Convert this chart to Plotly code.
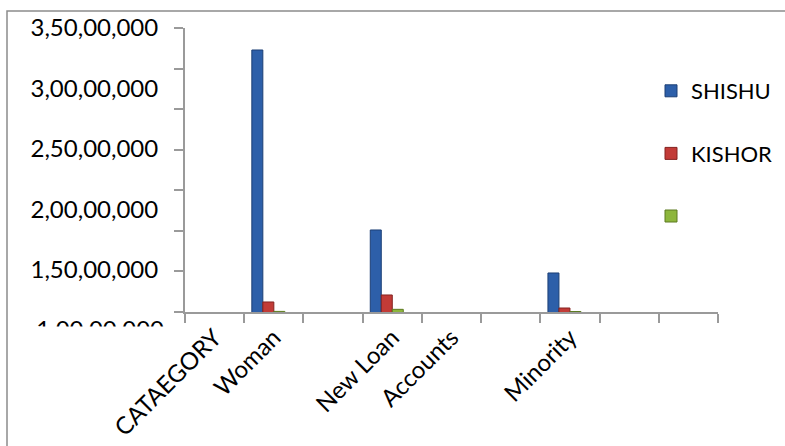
import numpy as np
import plotly.graph_objects as go

# Category slots along the x axis (blank slots keep their place in the layout)
CATEGORIES = ["CATAEGORY", "Woman", " ", "New Loan", "Accounts", "  ", "Minority", "   ", "    "]

# Series values (rupees)
SHISHU = [None, 33180000, None, 18280000, None, None, 14720000, None, None]
KISHOR = [None, 12320000, None, 12900000, None, None, 11820000, None, None]
UNNAMED = [None, 11540000, None, 11710000, None, None, 11530000, None, None]
BLANK = [None] * len(CATEGORIES)

# Value-axis labels (Indian digit grouping)
Y_TICK_VALUES = [35000000, 30000000, 25000000, 20000000, 15000000]
Y_TICK_LABELS = ["3,50,00,000", "3,00,00,000", "2,50,00,000", "2,00,00,000", "1,50,00,000"]
LOW_TICK_VALUE = [10000000]
LOW_TICK_LABEL = ["1,00,00,000"]

FONT = "Lato"
W, H = 785, 446
ML, MR, MT, MB = 185, 67, 28, 112
PLOT_W = W - ML - MR
PLOT_H = H - MT - MB

Y_TOP = 35000000
AXIS_FLOOR = 11490000          # value sitting on the category axis line
PX_PER_UNIT = 284 / (Y_TOP - AXIS_FLOOR)
LOWER_PX = 22                  # strip below the category axis line
Y_LOW = AXIS_FLOOR - LOWER_PX / PX_PER_UNIT
D0 = LOWER_PX / PLOT_H

fig = go.Figure()
series = [
    ("SHISHU", SHISHU, "#2d5fa9", "#1c3f75", True),
    ("KISHOR", KISHOR, "#c23b37", "#842320", True),
    ("", UNNAMED, "#8db63c", "#5c7a20", True),
    ("", BLANK, "#ffffff", "#ffffff", False),
]
for i, (name, vals, fill, edge, show) in enumerate(series):
    fig.add_trace(go.Bar(
        x=CATEGORIES, y=vals, name=name, showlegend=show,
        legendgroup=f"g{i}",
        marker=dict(color=fill, line=dict(color=edge, width=1)),
    ))

# empty trace so the lower value strip gets its own axis drawn
fig.add_trace(go.Scatter(x=[], y=[], xaxis="x", yaxis="y2", showlegend=False,
                         hoverinfo="skip"))

fig.update_layout(
    template="none",
    width=W, height=H,
    margin=dict(l=ML, r=MR, t=MT, b=MB, autoexpand=False),
    paper_bgcolor="white", plot_bgcolor="white",
    barmode="group", bargap=0.257, bargroupgap=0,
    font=dict(family=FONT, color="black"),
    xaxis=dict(
        type="category", categoryorder="array", categoryarray=CATEGORIES,
        anchor="y", automargin=False, showgrid=False, showline=True, linecolor="#9a9a9a", linewidth=2,
        ticks="outside", tickson="boundaries", ticklen=9, tickcolor="#9a9a9a", tickwidth=2,
        tickangle=-45, tickfont=dict(size=24, family=FONT),
    ),
    yaxis=dict(
        domain=[D0, 1], range=[AXIS_FLOOR, Y_TOP], anchor="x", automargin=False,
        showgrid=False, zeroline=False, showline=True, linecolor="#9a9a9a", linewidth=2,
        tickmode="array", tickvals=Y_TICK_VALUES, ticktext=Y_TICK_LABELS,
        ticks="", ticklabelstandoff=20, tickfont=dict(size=24, family=FONT),
        minor=dict(tickmode="array", tickvals=list(np.linspace(AXIS_FLOOR, Y_TOP, 8)),
                   ticks="outside", ticklen=9, tickcolor="#9a9a9a", tickwidth=2, showgrid=False),
    ),
    yaxis2=dict(
        domain=[0, D0], range=[Y_LOW, AXIS_FLOOR], anchor="x", automargin=False,
        showgrid=False, zeroline=False, showline=False,
        tickmode="array", tickvals=LOW_TICK_VALUE, ticktext=LOW_TICK_LABEL,
        ticks="", ticklabelstandoff=20, tickfont=dict(size=24, family=FONT),
    ),
    legend=dict(
        x=(651 - ML) / PLOT_W, y=(MT + PLOT_H - 70) / PLOT_H, xanchor="left", yanchor="top",
        font=dict(size=22, family=FONT), tracegroupgap=31, bgcolor="rgba(0,0,0,0)",
    ),
)

def px_x(p):
    return (p - ML) / PLOT_W

def px_y(p):
    return (MT + PLOT_H - p) / PLOT_H

# outer chart frame, running off the right and bottom edges
fig.add_shape(type="rect", xref="paper", yref="paper",
              x0=px_x(7), x1=px_x(795), y0=px_y(470), y1=px_y(11),
              line=dict(color="#8c8c8c", width=1.5), fillcolor="rgba(0,0,0,0)", layer="above")
# chart area clips the lowest value label
fig.add_shape(type="rect", xref="paper", yref="paper",
              x0=px_x(9), x1=px_x(180), y0=px_y(348), y1=px_y(326.5),
              line=dict(width=0), fillcolor="white", layer="above")

fig.write_html("out.html")
